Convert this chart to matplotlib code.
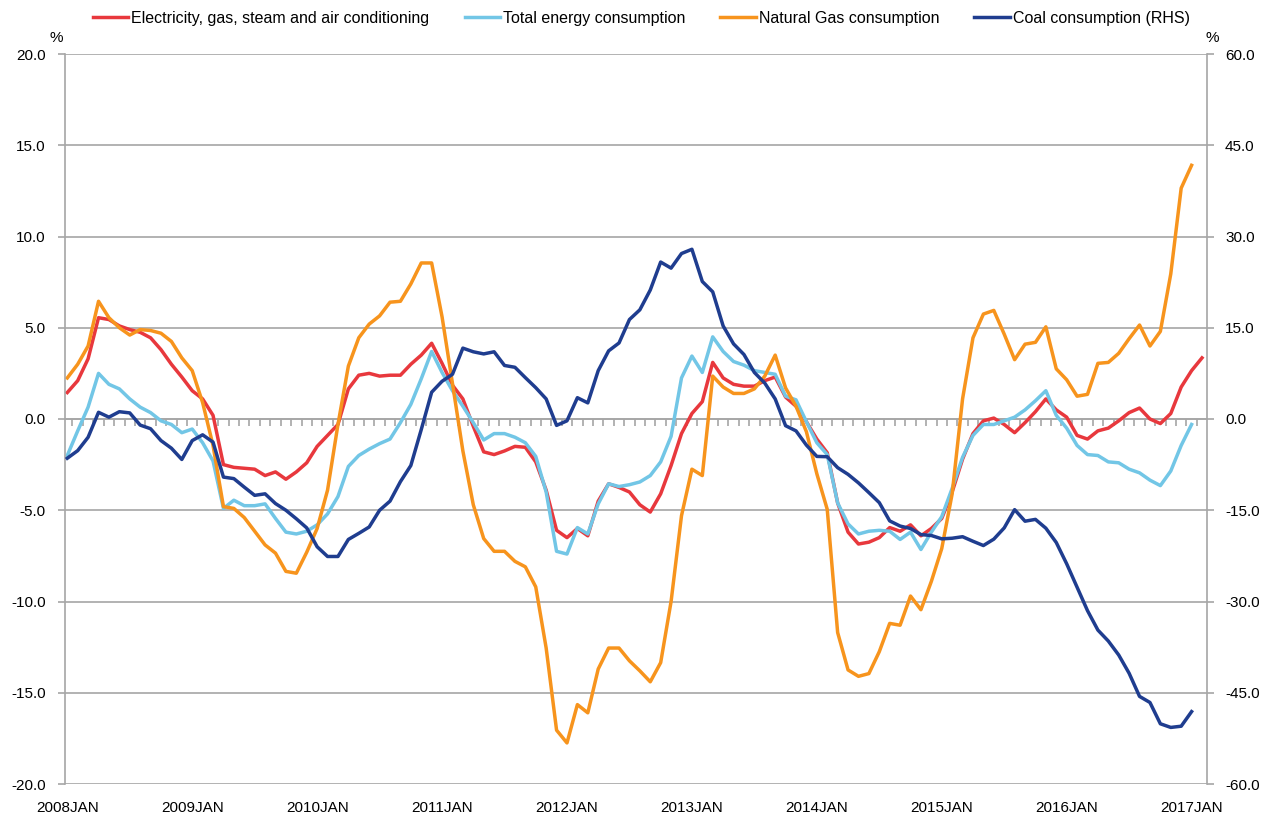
import numpy as np
import matplotlib.pyplot as plt

plt.rcParams['font.family'] = ['Liberation Sans', 'DejaVu Sans']

# monthly growth rates, 2008JAN onwards (%)
electricity = [1.45, 2.1, 3.3, 5.55, 5.45, 5.1, 4.9, 4.75, 4.45, 3.8, 3.0, 2.3,
               1.55, 1.1, 0.2, -2.5, -2.65, -2.7, -2.75, -3.1, -2.9, -3.3, -2.9, -2.4,
               -1.5, -0.9, -0.3, 1.65, 2.4, 2.5, 2.35, 2.4, 2.4, 3.0, 3.5, 4.15,
               3.05, 1.85, 1.1, -0.4, -1.8, -1.95, -1.75, -1.5, -1.55, -2.35, -3.9, -6.1,
               -6.5, -6.0, -6.4, -4.5, -3.55, -3.75, -4.0, -4.7, -5.1, -4.1, -2.55, -0.8,
               0.3, 0.95, 3.1, 2.25, 1.9, 1.8, 1.8, 2.1, 2.3, 1.2, 0.7, -0.15,
               -1.1, -1.85, -4.6, -6.2, -6.85, -6.75, -6.5, -5.95, -6.15, -5.8, -6.4, -6.0,
               -5.45, -4.0, -2.2, -0.8, -0.1, 0.05, -0.3, -0.75, -0.2, 0.4, 1.1, 0.5,
               0.1, -0.9, -1.1, -0.65, -0.5, -0.1, 0.35, 0.6, 0.0, -0.25, 0.3, 1.75,
               2.65, 3.35]

total_energy = [-2.0, -0.65, 0.65, 2.5, 1.9, 1.65, 1.1, 0.65, 0.35, -0.1, -0.3, -0.75,
                -0.55, -1.3, -2.3, -4.9, -4.45, -4.75, -4.75, -4.65, -5.45, -6.2, -6.3, -6.15,
                -5.8, -5.2, -4.25, -2.6, -2.0, -1.65, -1.35, -1.1, -0.2, 0.8, 2.2, 3.7,
                2.55, 1.55, 0.7, -0.2, -1.15, -0.8, -0.8, -1.0, -1.3, -2.05, -4.0, -7.25,
                -7.4, -5.95, -6.3, -4.65, -3.55, -3.7, -3.6, -3.45, -3.1, -2.35, -0.95, 2.25,
                3.45, 2.55, 4.5, 3.7, 3.15, 2.95, 2.65, 2.55, 2.45, 1.25, 1.05, -0.15,
                -1.3, -1.95, -4.6, -5.75, -6.3, -6.15, -6.1, -6.15, -6.6, -6.2, -7.15, -6.2,
                -5.35, -3.8, -2.1, -0.9, -0.3, -0.3, -0.1, 0.1, 0.5, 1.0, 1.55, 0.2,
                -0.5, -1.45, -1.95, -2.0, -2.35, -2.4, -2.75, -2.95, -3.35, -3.65, -2.85, -1.45,
                -0.3]

natural_gas = [2.25, 3.0, 4.0, 6.45, 5.55, 5.0, 4.6, 4.9, 4.85, 4.7, 4.25, 3.35,
               2.65, 0.9, -1.45, -4.8, -4.9, -5.4, -6.15, -6.9, -7.35, -8.35, -8.45, -7.3,
               -6.0, -3.9, -0.3, 2.9, 4.45, 5.2, 5.65, 6.4, 6.45, 7.4, 8.55, 8.55,
               5.6, 1.95, -1.75, -4.7, -6.55, -7.25, -7.25, -7.8, -8.1, -9.2, -12.55, -17.05,
               -17.75, -15.65, -16.1, -13.7, -12.55, -12.55, -13.25, -13.8, -14.4, -13.35, -10.0, -5.3,
               -2.75, -3.1, 2.35, 1.75, 1.4, 1.4, 1.65, 2.35, 3.5, 1.7, 0.7, -0.7,
               -3.0, -4.95, -11.7, -13.75, -14.1, -13.95, -12.75, -11.2, -11.3, -9.7, -10.45, -8.9,
               -7.1, -4.1, 1.1, 4.45, 5.75, 5.95, 4.65, 3.25, 4.1, 4.2, 5.05, 2.75,
               2.15, 1.25, 1.35, 3.05, 3.1, 3.6, 4.4, 5.15, 4.0, 4.8, 7.95, 12.65,
               13.9]

coal = [-6.45, -5.2, -3.0, 1.1, 0.3, 1.2, 1.0, -1.0, -1.6, -3.55, -4.8, -6.65,
        -3.55, -2.6, -3.8, -9.55, -9.8, -11.2, -12.55, -12.3, -13.9, -15.0, -16.4, -17.9,
        -21.0, -22.6, -22.6, -19.8, -18.8, -17.75, -15.0, -13.5, -10.3, -7.65, -1.75, 4.4,
        6.2, 7.35, 11.65, 11.05, 10.7, 11.05, 8.8, 8.5, 6.8, 5.15, 3.3, -1.05,
        -0.3, 3.5, 2.65, 7.95, 11.2, 12.5, 16.35, 17.95, 21.2, 25.8, 24.8, 27.2,
        27.9, 22.6, 20.9, 15.3, 12.35, 10.6, 7.65, 5.9, 3.3, -1.1, -1.95, -4.3,
        -6.15, -6.2, -8.0, -9.1, -10.5, -12.1, -13.75, -16.75, -17.6, -18.0, -19.0, -19.15,
        -19.7, -19.6, -19.35, -20.1, -20.8, -19.75, -17.9, -14.9, -16.8, -16.5, -17.95, -20.3,
        -23.8, -27.65, -31.5, -34.7, -36.5, -38.8, -41.8, -45.6, -46.6, -50.1, -50.7, -50.5,
        -48.1]

year_labels = ['2008JAN', '2009JAN', '2010JAN', '2011JAN', '2012JAN',
               '2013JAN', '2014JAN', '2015JAN', '2016JAN', '2017JAN']
left_ticks = [-20, -15, -10, -5, 0, 5, 10, 15, 20]
right_ticks = [-60, -45, -30, -15, 0, 15, 30, 45, 60]

names = ['Electricity, gas, steam and air conditioning', 'Total energy consumption',
         'Natural Gas consumption', 'Coal consumption (RHS)']
colors = ['#E8383D', '#72C6E6', '#F7941D', '#1F3D8F']
grey = '#A6A6A6'
lw = 2.5

fig = plt.figure(figsize=(12.65, 8.16), dpi=100)
ax = fig.add_axes([65/1265, 1-784/816, (1207-65)/1265, (784-54)/816])
ax2 = ax.twinx()

h = []
h += ax.plot(np.arange(len(electricity)), electricity, color=colors[0], lw=lw)
h += ax.plot(np.arange(len(total_energy)), total_energy, color=colors[1], lw=lw)
h += ax.plot(np.arange(len(natural_gas)), natural_gas, color=colors[2], lw=lw)
h += ax2.plot(np.arange(len(coal)), coal, color=colors[3], lw=lw)

ax.set_xlim(-0.22, 109.48)
ax.set_ylim(-20, 20)
ax2.set_ylim(-60, 60)

ax.set_yticks(left_ticks)
ax.set_yticklabels(['%.1f' % v for v in left_ticks])
ax2.set_yticks(right_ticks)
ax2.set_yticklabels(['%.1f' % v for v in right_ticks])
ax.yaxis.grid(True, color=grey, lw=1.2)
ax.set_axisbelow(True)

ax.set_xticks(range(0, 109, 12))
ax.set_xticklabels(year_labels)
ax.tick_params(axis='x', length=0, pad=12, labelsize=11)
ax.tick_params(axis='y', length=5, color=grey, width=1.2, pad=9, labelsize=11)
ax2.tick_params(axis='y', length=5, color=grey, width=1.2, pad=8, labelsize=11)

for a in (ax, ax2):
    for s in ('top', 'bottom'):
        a.spines[s].set_visible(False)
ax.spines['right'].set_visible(False)
ax2.spines['left'].set_visible(False)
ax.spines['left'].set_color(grey)
ax.spines['left'].set_linewidth(1.2)
ax2.spines['right'].set_color(grey)
ax2.spines['right'].set_linewidth(1.2)

# zero line with monthly tick marks
zero = ax.secondary_xaxis(0.5)
zero.set_alignment('bottom')
zero.set_xticks(np.arange(0.5, 109, 1))
zero.tick_params(axis='x', direction='out', length=5, color=grey, width=1.2,
                 labelbottom=False, labeltop=False)
zero.spines['bottom'].set_color(grey)
zero.spines['bottom'].set_linewidth(1.2)

fig.text(56/1265, 1-38/816, '%', ha='center', va='center', fontsize=11)
fig.text(1212/1265, 1-38/816, '%', ha='center', va='center', fontsize=11)

fig.legend(h, names, loc='center left', bbox_to_anchor=(93/1265, 1-18/816),
           ncol=4, frameon=False, fontsize=11.5, handlelength=2.2,
           handletextpad=0.2, columnspacing=2.2, borderpad=0, borderaxespad=0)

fig.savefig('out.png', dpi=100)
